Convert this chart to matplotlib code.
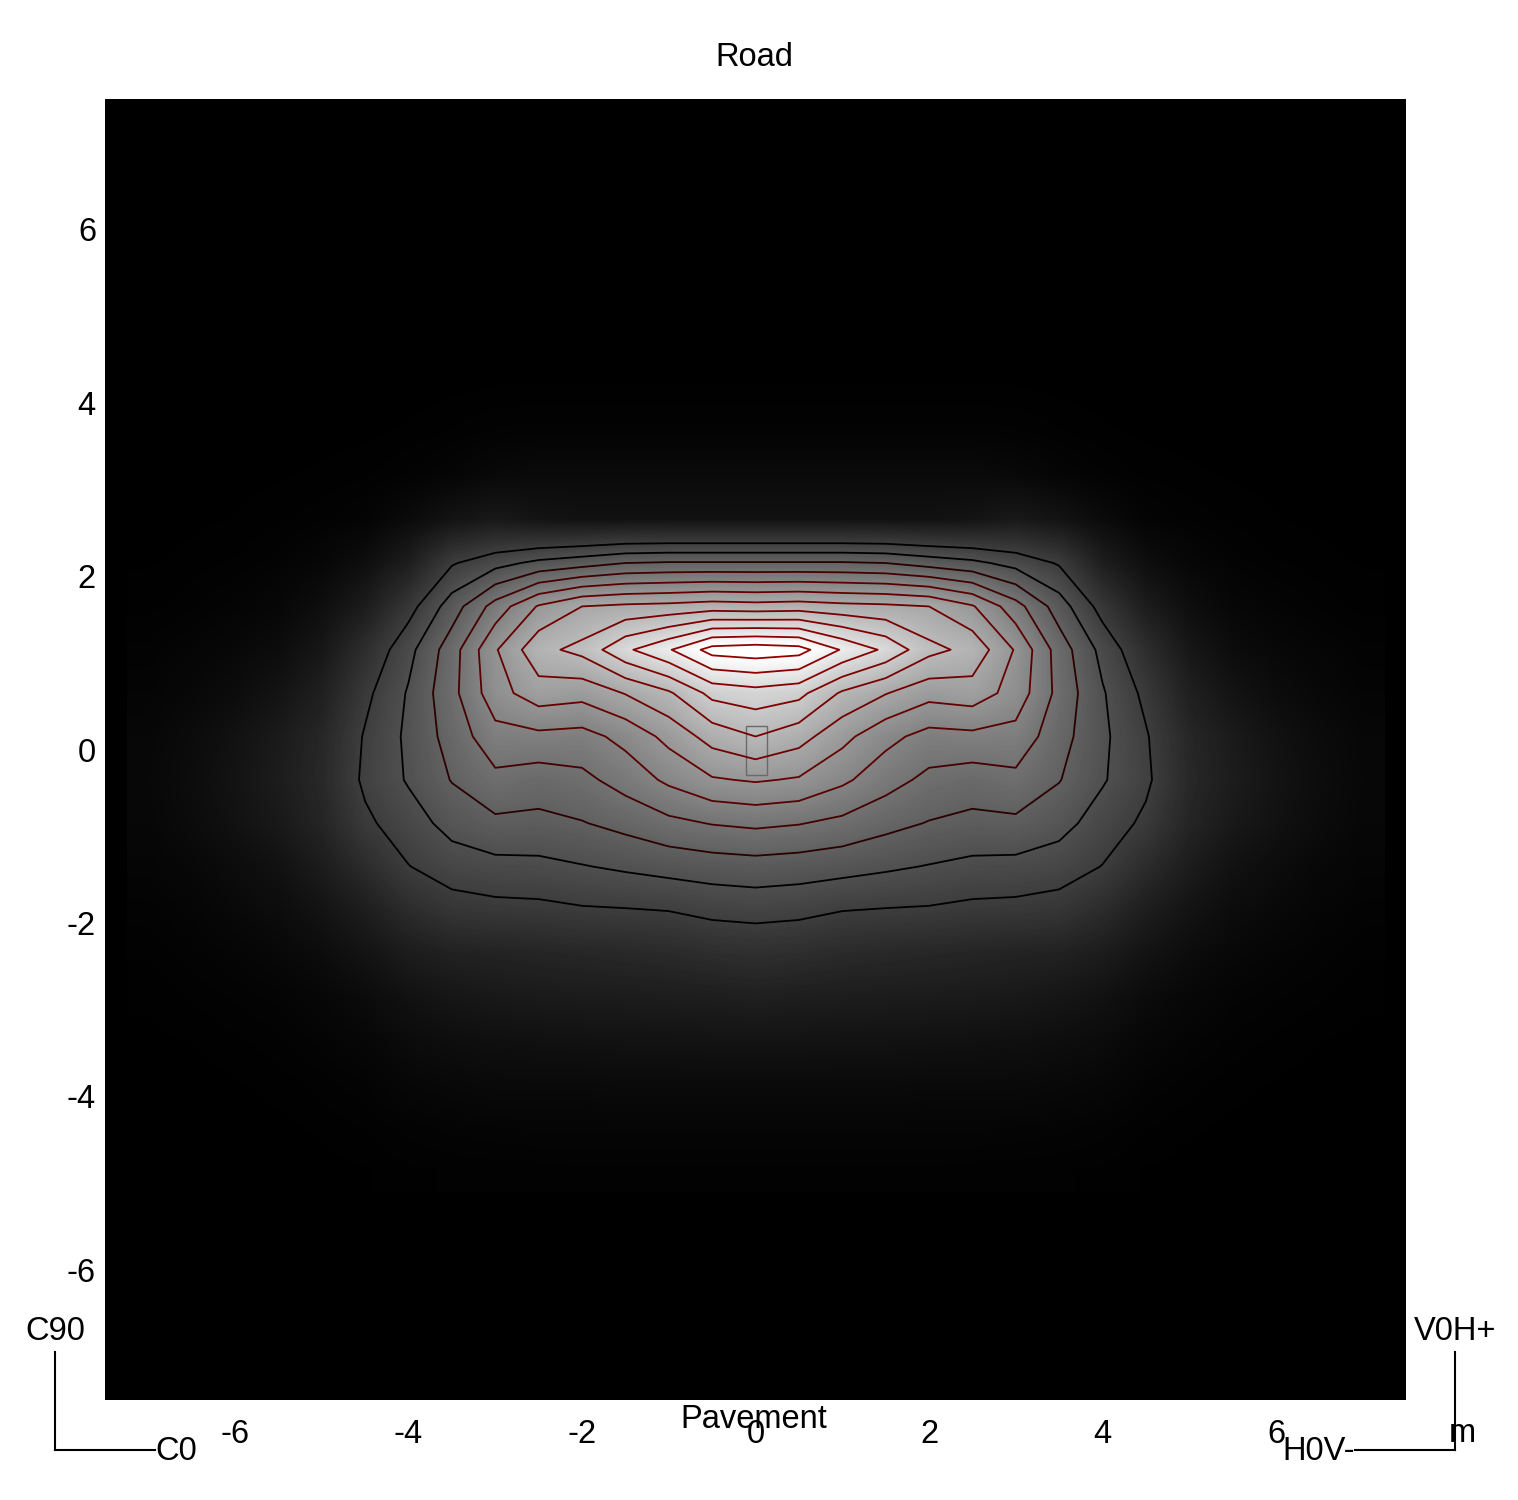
import matplotlib
matplotlib.use("Agg")
import matplotlib.pyplot as plt
from matplotlib.lines import Line2D
from matplotlib.patches import Rectangle
import numpy as np

plt.rcParams["font.family"] = ["Liberation Sans", "DejaVu Sans"]
plt.rcParams["axes.unicode_minus"] = False

# ---- data: illuminance grid (cell centres, metres) ----
xs = [-7.0, -6.5, -6.0, -5.5, -5.0, -4.5, -4.0, -3.5, -3.0, -2.5, -2.0, -1.5, -1.0, -0.5, 0.0,
      0.5, 1.0, 1.5, 2.0, 2.5, 3.0, 3.5, 4.0, 4.5, 5.0, 5.5, 6.0, 6.5, 7.0]
ys = [4.65, 4.15, 3.65, 3.15, 2.65, 2.15, 1.65, 1.15, 0.65, 0.15,
      -0.35, -0.85, -1.35, -1.85, -2.35, -2.85, -3.35, -3.85, -4.35, -4.85]

row_465 = [0, 0, 0, 0, 0, 0.05, 0.1, 0.1, 0.2, 0.2, 0.2, 0.2, 0.2, 0.2, 0.2,
           0.2, 0.2, 0.2, 0.2, 0.2, 0.2, 0.1, 0.1, 0.05, 0, 0, 0, 0, 0]
row_415 = [0, 0, 0.05, 0.1, 0.1, 0.15, 0.25, 0.4, 0.6, 0.6, 0.6, 0.6, 0.6, 0.6, 0.6,
           0.6, 0.6, 0.6, 0.6, 0.6, 0.6, 0.4, 0.25, 0.15, 0.1, 0.1, 0.05, 0, 0]
row_365 = [0.05, 0.1, 0.15, 0.2, 0.3, 0.4, 0.7, 1.2, 1.8, 2.0, 2.0, 2.0, 2.0, 2.0, 2.0,
           2.0, 2.0, 2.0, 2.0, 2.0, 1.8, 1.2, 0.7, 0.4, 0.3, 0.2, 0.15, 0.1, 0.05]
row_315 = [0.1, 0.2, 0.3, 0.5, 0.7, 1.0, 1.8, 3, 5, 6, 6, 6, 6, 6, 6,
           6, 6, 6, 6, 6, 5, 3, 1.8, 1.0, 0.7, 0.5, 0.3, 0.2, 0.1]
row_265 = [0.2, 0.4, 0.6, 1.0, 1.5, 2.5, 6, 11, 14, 11, 10, 10, 10, 10, 10,
           10, 10, 10, 10, 11, 14, 11, 6, 2.5, 1.5, 1.0, 0.6, 0.4, 0.2]
row_215 = [0.5, 0.8, 1.2, 2, 4, 8, 17, 34, 41.5, 47.5, 51, 55, 56, 56, 56,
           56, 56, 55, 51, 47.5, 41.5, 34, 17, 8, 4, 2, 1.2, 0.8, 0.5]
row_165 = [0.9, 1.5, 2.5, 4, 8, 16, 31, 50, 69, 86, 95, 97, 98, 100, 99,
           100, 98, 97, 95, 86, 69, 50, 31, 16, 8, 4, 2.5, 1.5, 0.9]
row_115 = [1.8, 3, 4.5, 7, 13, 26, 42, 60.5, 84, 102, 108, 123, 134, 149, 151,
           149, 134, 123, 108, 102, 84, 60.5, 42, 26, 13, 7, 4.5, 3, 1.8]
row_065 = [2.8, 4.5, 7, 11, 18, 32.5, 46, 62, 81, 90.5, 88.5, 95.5, 103.5, 118, 121,
           118, 103.5, 95.5, 88.5, 90.5, 81, 62, 46, 32.5, 18, 11, 7, 4.5, 2.8]
row_015 = [4, 6.5, 10, 15, 22, 36, 47, 59, 71.5, 72.5, 71.5, 78, 88, 99, 105,
           99, 88, 78, 71.5, 72.5, 71.5, 59, 47, 36, 22, 15, 10, 6.5, 4]
row_m035 = [4.5, 7, 11, 16, 23, 37, 46, 55.5, 62.5, 60, 62.5, 69, 77, 84, 86,
            84, 77, 69, 62.5, 60, 62.5, 55.5, 46, 37, 23, 16, 11, 7, 4.5]
row_m085 = [4, 6.5, 10, 14, 21, 33, 40.5, 48.5, 53, 52.5, 54.5, 58, 62.5, 65.5, 67,
            65.5, 62.5, 58, 54.5, 52.5, 53, 48.5, 40.5, 33, 21, 14, 10, 6.5, 4]
row_m135 = [3, 4.5, 7, 10, 16, 25, 34.7, 40, 42, 42.5, 44.5, 46.5, 48.5, 50, 51,
            50, 48.5, 46.5, 44.5, 42.5, 42, 40, 34.7, 25, 16, 10, 7, 4.5, 3]
row_m185 = [2, 3, 5, 7, 11, 17, 25, 30.5, 32, 32.5, 34, 34.5, 35.3, 37.7, 38.6,
            37.7, 35.3, 34.5, 34, 32.5, 32, 30.5, 25, 17, 11, 7, 5, 3, 2]
row_m235 = [1.2, 2, 3, 4.5, 7, 11, 16, 19, 20, 21, 22, 23, 24, 26, 27,
            26, 24, 23, 22, 21, 20, 19, 16, 11, 7, 4.5, 3, 2, 1.2]
row_m285 = [0.7, 1.2, 1.8, 2.5, 4, 6.5, 10, 12.5, 14, 15, 15.5, 16, 16.5, 17, 18,
            17, 16.5, 16, 15.5, 15, 14, 12.5, 10, 6.5, 4, 2.5, 1.8, 1.2, 0.7]
row_m335 = [0.4, 0.6, 1, 1.5, 2.5, 4, 6.5, 8, 9, 9.5, 10, 10.5, 10.5, 11, 11,
            11, 10.5, 10.5, 10, 9.5, 9, 8, 6.5, 4, 2.5, 1.5, 1, 0.6, 0.4]
row_m385 = [0.2, 0.3, 0.5, 0.8, 1.4, 2.2, 4, 4.8, 5.5, 5.5, 5.5, 6, 6, 6, 6,
            6, 6, 6, 5.5, 5.5, 5.5, 4.8, 4, 2.2, 1.4, 0.8, 0.5, 0.3, 0.2]
row_m435 = [0.1, 0.15, 0.25, 0.4, 0.7, 1.2, 2, 2.5, 2.8, 3, 3, 3, 3, 3, 3,
            3, 3, 3, 3, 3, 2.8, 2.5, 2, 1.2, 0.7, 0.4, 0.25, 0.15, 0.1]
row_m485 = [0.05, 0.1, 0.1, 0.2, 0.3, 0.5, 1.0, 1.2, 1.3, 1.4, 1.5, 1.5, 1.5, 1.5, 1.5,
            1.5, 1.5, 1.5, 1.5, 1.4, 1.3, 1.2, 1.0, 0.5, 0.3, 0.2, 0.1, 0.1, 0.05]

levels = [35, 45, 55, 65, 75, 85, 95, 105, 115, 125, 135, 145]
level_colors = ["#000000", "#000000", "#2a0000", "#450000", "#5a0000", "#660000",
                "#700000", "#780000", "#800000", "#860000", "#8c0000", "#930000"]
xticks = [-6, -4, -2, 0, 2, 4, 6]
yticks = [-6, -4, -2, 0, 2, 4, 6]

Z = np.array([row_465, row_415, row_365, row_315, row_265, row_215, row_165, row_115,
              row_065, row_015, row_m035, row_m085, row_m135, row_m185, row_m235,
              row_m285, row_m335, row_m385, row_m435, row_m485])
X, Y = np.meshgrid(xs, ys)

W, H = 1518, 1500
FS = 23.5
fig = plt.figure(figsize=(W / 100, H / 100), dpi=100, facecolor="white")
ax = fig.add_axes([105 / W, 100 / H, 1301 / W, 1301 / H])
ax.set_facecolor("black")
ax.imshow(Z, cmap="gray", vmin=0, vmax=145, origin="upper", interpolation="bilinear",
          extent=[xs[0] - 0.25, xs[-1] + 0.25, ys[-1] - 0.25, ys[0] + 0.25], aspect="auto")
ax.contour(X, Y, Z, levels=levels, colors=level_colors, linewidths=1.3)
ax.add_patch(Rectangle((-0.115, -0.29), 0.25, 0.56, fill=False, ec="#6a6a6a", lw=1.0))
ax.set_xlim(-7.5, 7.5); ax.set_ylim(-7.5, 7.5)
for s in ax.spines.values(): s.set_visible(False)
ax.set_xticks(xticks); ax.set_xticklabels([str(t) for t in xticks])
ax.set_yticks(yticks); ax.set_yticklabels([str(t) for t in yticks])
ax.tick_params(axis="x", length=0, labelsize=FS, pad=13.5)
ax.tick_params(axis="y", length=0, labelsize=FS, pad=6.5)

def fx(px): return px / W
def fy(py): return 1 - py / H

fig.text(fx(754), fy(57), "Road", ha="center", va="center", fontsize=FS)
fig.text(fx(754), fy(1420), "Pavement", ha="center", va="center", fontsize=FS)
fig.text(fx(55), fy(1332), "C90", ha="center", va="center", fontsize=FS)
fig.text(fx(155), fy(1451), "C0", ha="left", va="center", fontsize=FS)
fig.text(fx(1455), fy(1332), "V0H+", ha="center", va="center", fontsize=FS)
fig.text(fx(1355), fy(1451), "H0V-", ha="right", va="center", fontsize=FS)
fig.text(fx(1462), fy(1433), "m", ha="center", va="center", fontsize=FS)
for (x0, y0, x1, y1) in [(55, 1352, 55, 1450), (55, 1450, 155, 1450),
                         (1455, 1352, 1455, 1450), (1355, 1450, 1455, 1450)]:
    fig.add_artist(Line2D([fx(x0), fx(x1)], [fy(y0), fy(y1)], color="black", lw=1.5,
                          transform=fig.transFigure))

fig.savefig("out.png", dpi=100, facecolor="white")
